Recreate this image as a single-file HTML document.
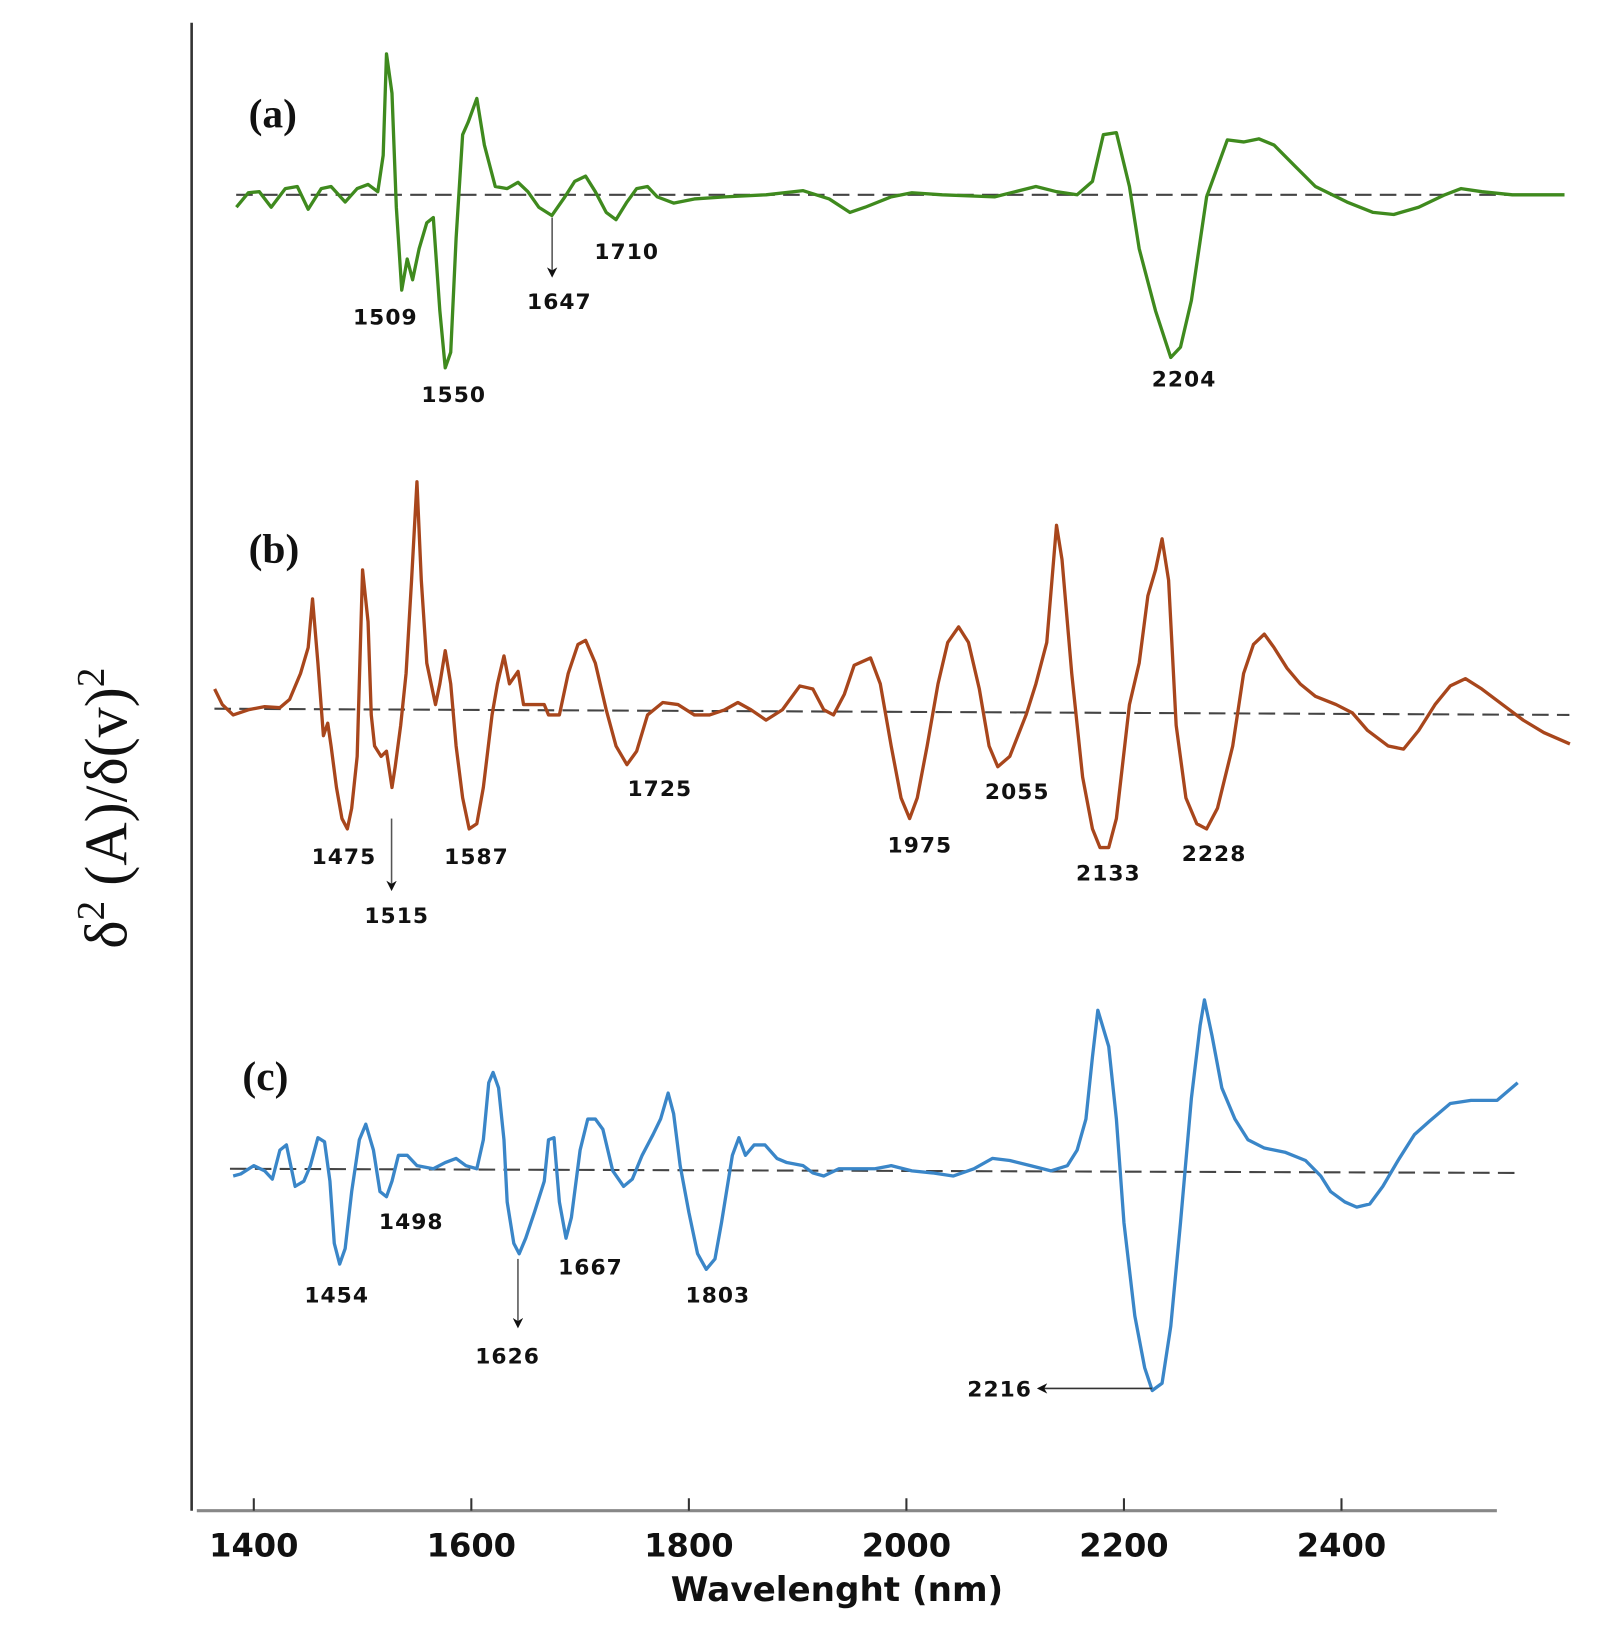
<!DOCTYPE html>
<html><head><meta charset="utf-8"><style>
html,body{margin:0;padding:0;background:#fff;}
svg{display:block;}
.ann{font-family:"DejaVu Sans","Liberation Sans",sans-serif;font-size:21px;font-weight:bold;fill:#111;letter-spacing:1px;}
.tick{font-family:"DejaVu Sans","Liberation Sans",sans-serif;font-size:31px;font-weight:bold;fill:#111;}
.plab{font-family:"Liberation Serif",serif;font-size:40px;font-weight:bold;fill:#111;}
</style></head><body>
<svg id="chart" width="1616" height="1634" viewBox="0 0 1560 1577" preserveAspectRatio="none" xmlns="http://www.w3.org/2000/svg">
<defs><marker id="ah" markerWidth="10" markerHeight="10" refX="8" refY="5" orient="auto" markerUnits="userSpaceOnUse"><path d="M0,0 L10,5 L0,10 L3,5 Z" fill="#111"/></marker></defs>
<line x1="185" y1="22" x2="185" y2="1458" stroke="#333" stroke-width="2.5"/>
<line x1="190" y1="1458" x2="1445" y2="1458" stroke="#888" stroke-width="3"/>
<g id="xticks"></g>
<text x="808" y="1545" text-anchor="middle" style="font-family:'DejaVu Sans','Liberation Sans',sans-serif;font-size:33px;font-weight:bold;fill:#111">Wavelenght (nm)</text>
<text transform="translate(122,780) rotate(-90)" text-anchor="middle" style="font-family:'Liberation Serif',serif;font-size:58px;fill:#111">δ<tspan dy="-22" font-size="38">2</tspan><tspan dy="22"> (A)/δ(v)</tspan><tspan dy="-22" font-size="38">2</tspan></text>
<g id="series"></g>
<text class="plab" x="240" y="123">(a)</text>
<text class="plab" x="240" y="543">(b)</text>
<text class="plab" x="234" y="1052">(c)</text>
<g>
<text class="ann" x="372" y="313" text-anchor="middle">1509</text>
<text class="ann" x="438" y="388" text-anchor="middle">1550</text>
<text class="ann" x="540" y="298" text-anchor="middle">1647</text>
<text class="ann" x="605" y="250" text-anchor="middle">1710</text>
<text class="ann" x="1143" y="373" text-anchor="middle">2204</text>
<line x1="533" y1="210" x2="533" y2="266" stroke="#555" stroke-width="1.5" marker-end="url(#ah)"/>
</g>
<g>
<text class="ann" x="332" y="834" text-anchor="middle">1475</text>
<text class="ann" x="383" y="891" text-anchor="middle">1515</text>
<text class="ann" x="460" y="834" text-anchor="middle">1587</text>
<text class="ann" x="637" y="768" text-anchor="middle">1725</text>
<text class="ann" x="888" y="823" text-anchor="middle">1975</text>
<text class="ann" x="982" y="771" text-anchor="middle">2055</text>
<text class="ann" x="1070" y="850" text-anchor="middle">2133</text>
<text class="ann" x="1172" y="831" text-anchor="middle">2228</text>
<line x1="378" y1="790" x2="378" y2="858" stroke="#555" stroke-width="1.5" marker-end="url(#ah)"/>
</g>
<g>
<text class="ann" x="325" y="1257" text-anchor="middle">1454</text>
<text class="ann" x="397" y="1186" text-anchor="middle">1498</text>
<text class="ann" x="570" y="1230" text-anchor="middle">1667</text>
<text class="ann" x="693" y="1257" text-anchor="middle">1803</text>
<text class="ann" x="490" y="1316" text-anchor="middle">1626</text>
<text class="ann" x="965" y="1348" text-anchor="middle">2216</text>
<line x1="500" y1="1215" x2="500" y2="1280" stroke="#555" stroke-width="1.5" marker-end="url(#ah)"/>
<line x1="1112" y1="1340" x2="1003" y2="1340" stroke="#333" stroke-width="1.5" marker-end="url(#ah)"/>
</g>
</svg>
<script>
const tickValues = [1400,1600,1800,2000,2200,2400];
const wlA = [1384,1395,1405,1416,1429,1440,1450,1462,1471,1484,1495,1505,1514,1519,1522,1527,1531,1536,1541,1546,1552,1559,1565,1571,1576,1581,1586,1592,1597,1605,1612,1622,1633,1643,1652,1662,1674,1686,1695,1705,1714,1724,1733,1743,1752,1762,1771,1786,1805,1833,1871,1905,1929,1948,1962,1986,2005,2033,2081,2100,2119,2138,2157,2171,2181,2193,2205,2214,2229,2243,2252,2262,2276,2295,2310,2324,2338,2357,2376,2405,2429,2448,2471,2495,2510,2529,2557,2605];
const valA = [-12,2,3,-12,6,8,-14,6,8,-7,6,10,3,38,136,98,-12,-92,-62,-82,-52,-27,-22,-112,-167,-152,-42,58,70,93,48,8,6,12,3,-12,-20,-2,13,18,3,-17,-24,-7,6,8,-2,-8,-4,-2,0,4,-4,-17,-12,-2,2,0,-2,3,8,3,0,13,58,60,8,-52,-112,-157,-147,-102,-2,53,51,54,48,28,8,-7,-17,-19,-12,0,6,3,0,0];
const wlB = [1364,1371,1381,1395,1410,1424,1433,1443,1450,1454,1459,1464,1468,1471,1476,1481,1486,1490,1495,1500,1505,1508,1511,1517,1522,1527,1530,1535,1540,1545,1550,1554,1559,1567,1571,1576,1581,1586,1592,1598,1605,1611,1619,1624,1630,1635,1643,1648,1657,1667,1671,1681,1689,1698,1705,1714,1724,1733,1743,1752,1762,1776,1790,1805,1819,1833,1845,1857,1871,1886,1902,1914,1924,1933,1943,1952,1967,1976,1986,1995,2003,2010,2019,2029,2038,2048,2057,2067,2076,2084,2095,2110,2119,2129,2138,2143,2152,2162,2171,2178,2186,2193,2205,2214,2222,2229,2235,2241,2248,2257,2267,2276,2286,2300,2310,2319,2329,2338,2350,2362,2376,2395,2410,2424,2443,2457,2471,2486,2500,2514,2529,2548,2567,2586,2610];
const valB = [22,7,-3,2,5,4,12,37,62,109,47,-23,-11,-33,-73,-103,-113,-93,-43,137,87,-3,-33,-43,-38,-73,-53,-13,37,127,222,127,47,7,27,59,27,-33,-83,-113,-108,-73,-3,27,54,27,39,7,7,7,-3,-3,37,65,69,47,2,-33,-51,-38,-3,9,7,-3,-3,2,9,2,-8,2,25,22,2,-3,17,45,52,27,-33,-83,-103,-83,-33,27,67,82,67,22,-33,-53,-43,-3,27,67,180,147,37,-63,-113,-131,-131,-103,7,47,112,137,167,127,-13,-83,-108,-113,-93,-33,37,65,75,62,42,27,15,7,-1,-18,-33,-36,-18,7,25,32,22,7,-8,-20,-31];
const wlC = [1381,1388,1400,1410,1417,1424,1430,1438,1446,1452,1459,1465,1470,1474,1479,1484,1490,1497,1503,1510,1516,1522,1527,1533,1541,1550,1565,1576,1586,1595,1605,1611,1616,1620,1625,1630,1633,1639,1644,1650,1658,1667,1671,1676,1681,1687,1692,1700,1707,1714,1721,1730,1740,1748,1757,1767,1774,1781,1786,1792,1800,1808,1816,1824,1830,1840,1846,1852,1860,1870,1881,1890,1905,1914,1924,1938,1952,1971,1986,2005,2024,2043,2062,2079,2095,2114,2133,2148,2157,2165,2171,2176,2186,2193,2200,2210,2219,2226,2235,2243,2252,2262,2270,2274,2281,2290,2302,2314,2329,2348,2367,2381,2390,2403,2414,2426,2438,2452,2467,2481,2500,2519,2543,2562];
const valC = [-5,-3,5,0,-8,20,25,-15,-10,5,32,28,-10,-70,-90,-75,-20,30,45,20,-20,-25,-10,15,15,5,2,8,12,5,2,30,85,95,80,30,-30,-70,-80,-65,-40,-10,30,32,-30,-65,-45,20,50,50,40,0,-15,-8,15,35,50,75,55,5,-40,-80,-95,-85,-50,15,32,15,25,25,12,8,5,-2,-5,2,2,2,5,0,-2,-5,2,12,10,5,0,5,20,50,110,155,120,50,-50,-140,-190,-212,-205,-150,-50,70,140,165,130,80,50,30,22,18,10,-5,-20,-30,-35,-32,-15,10,35,48,65,68,68,85];

const NS = 'http://www.w3.org/2000/svg';
function xScale(w){ return 245 + (w - 1400) * 1.05; }
function yScale(v, base){ return base - v; }

const tg = document.getElementById('xticks');
tickValues.forEach(function(t){
  const l = document.createElementNS(NS,'line');
  l.setAttribute('x1', xScale(t)); l.setAttribute('x2', xScale(t));
  l.setAttribute('y1', 1446); l.setAttribute('y2', 1458);
  l.setAttribute('stroke','#333'); l.setAttribute('stroke-width','2');
  
  
  tg.appendChild(l);
  const tx = document.createElementNS(NS,'text');
  tx.setAttribute('x', xScale(t)); tx.setAttribute('y', 1502);
  tx.setAttribute('text-anchor','middle'); tx.setAttribute('class','tick');
  tx.textContent = t;
  
  
  tg.appendChild(tx);
});

const sg = document.getElementById('series');
function drawSeries(wl, val, base, color, dash, name){
  const d = document.createElementNS(NS,'line');
  d.setAttribute('x1', dash[0]); d.setAttribute('x2', dash[1]);
  d.setAttribute('y1', dash[2]); d.setAttribute('y2', dash[3]);
  d.setAttribute('stroke','#444'); d.setAttribute('stroke-width','2');
  d.setAttribute('stroke-dasharray','16,8');
  
  
  sg.appendChild(d);
  const n = Math.min(wl.length, val.length);
  let pts = [];
  for (let i = 0; i < n; i++) pts.push(xScale(wl[i]).toFixed(1) + ',' + yScale(val[i], base).toFixed(1));
  const p = document.createElementNS(NS,'polyline');
  p.setAttribute('points', pts.join(' '));
  p.setAttribute('fill','none'); p.setAttribute('stroke', color);
  p.setAttribute('stroke-width','3.2'); p.setAttribute('stroke-linejoin','round');
  
  
  sg.appendChild(p);
}
drawSeries(wlA, valA, 188, '#3f8a1e', [228,1510,188,188], 'a');
drawSeries(wlB, valB, 687, '#a8461c', [207,1515,684,690], 'b');
drawSeries(wlC, valC, 1130, '#3a86c8', [222,1465,1128,1132], 'c');
</script>
</body></html>
